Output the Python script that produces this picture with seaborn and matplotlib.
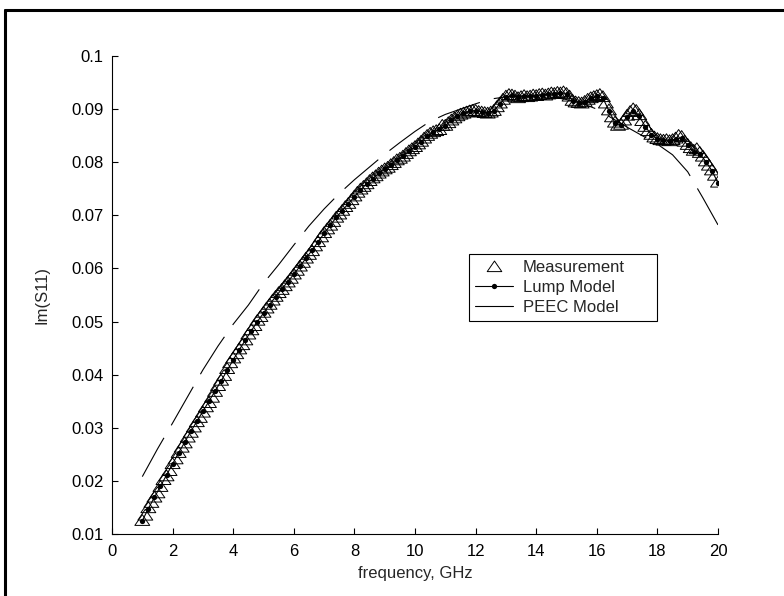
import numpy as np
import pandas as pd
import matplotlib
matplotlib.use("Agg")
import matplotlib.pyplot as plt
import seaborn as sns
from matplotlib.lines import Line2D
from matplotlib.path import Path

# Measurement, 1 - 20 GHz step 0.1
meas_freq = [round(1.0 + 0.1 * i, 1) for i in range(191)]
meas_im = [
    0.0126, 0.0136, 0.0150, 0.0160, 0.0170, 0.0178, 0.0190, 0.0203, 0.0210, 0.0220,
    0.0233, 0.0242, 0.0254, 0.0264, 0.0272, 0.0283, 0.0292, 0.0302, 0.0312, 0.0320,
    0.0330, 0.0340, 0.0348, 0.0358, 0.0369, 0.0380, 0.0390, 0.0399, 0.0412, 0.0423,
    0.0432, 0.0440, 0.0449, 0.0457, 0.0466, 0.0477, 0.0485, 0.0493, 0.0503, 0.0510,
    0.0518, 0.0526, 0.0533, 0.0541, 0.0548, 0.0555, 0.0561, 0.0568, 0.0575, 0.0582,
    0.0590, 0.0597, 0.0605, 0.0612, 0.0620, 0.0627, 0.0634, 0.0643, 0.0651, 0.0660,
    0.0668, 0.0675, 0.0682, 0.0689, 0.0697, 0.0703, 0.0710, 0.0717, 0.0723, 0.0730,
    0.0737, 0.0744, 0.0750, 0.0755, 0.0760, 0.0766, 0.0771, 0.0775, 0.0780, 0.0784,
    0.0788, 0.0791, 0.0796, 0.0800, 0.0805, 0.0808, 0.0812, 0.0817, 0.0822, 0.0826,
    0.0830, 0.0835, 0.0840, 0.0846, 0.0851, 0.0855, 0.0858, 0.0860, 0.0862, 0.0870,
    0.0870, 0.0875, 0.0880, 0.0884, 0.0888, 0.0891, 0.0893, 0.0895, 0.0897, 0.0898,
    0.0898, 0.0896, 0.0895, 0.0894, 0.0893, 0.0895, 0.0898, 0.0905, 0.0912, 0.0919,
    0.0925, 0.0928, 0.0927, 0.0925, 0.0922, 0.0924, 0.0926, 0.0924, 0.0925, 0.0927,
    0.0926, 0.0928, 0.0929, 0.0927, 0.0929, 0.0931, 0.0930, 0.0932, 0.0931, 0.0933,
    0.0930, 0.0925, 0.0917, 0.0914, 0.0913, 0.0912, 0.0915, 0.0919, 0.0922, 0.0924,
    0.0926, 0.0928, 0.0924, 0.0912, 0.0899, 0.0886, 0.0876, 0.0870, 0.0872, 0.0880,
    0.0889, 0.0896, 0.0901, 0.0898, 0.0890, 0.0879, 0.0868, 0.0860, 0.0853, 0.0848,
    0.0845, 0.0843, 0.0842, 0.0843, 0.0841, 0.0843, 0.0846, 0.0851, 0.0849, 0.0840,
    0.0834, 0.0828, 0.0823, 0.0826, 0.0819, 0.0812, 0.0803, 0.0795, 0.0786, 0.0776,
    0.0763,
]

# Lump model, 1 - 20 GHz step 0.2
lump_freq = [round(1.0 + 0.2 * i, 1) for i in range(96)]
lump_im = [
    0.0125, 0.0148, 0.0169, 0.0190, 0.0211, 0.0232, 0.0253, 0.0273, 0.0293, 0.0312,
    0.0331, 0.0350, 0.0369, 0.0388, 0.0408, 0.0428, 0.0447, 0.0465, 0.0483, 0.0500,
    0.0516, 0.0532, 0.0547, 0.0561, 0.0575, 0.0589, 0.0604, 0.0619, 0.0634, 0.0650,
    0.0666, 0.0681, 0.0696, 0.0709, 0.0722, 0.0735, 0.0748, 0.0759, 0.0769, 0.0779,
    0.0787, 0.0795, 0.0804, 0.0812, 0.0821, 0.0829, 0.0839, 0.0849, 0.0856, 0.0862,
    0.0869, 0.0879, 0.0887, 0.0892, 0.0896, 0.0897, 0.0895, 0.0893, 0.0897, 0.0910,
    0.0922, 0.0926, 0.0922, 0.0924, 0.0924, 0.0925, 0.0927, 0.0928, 0.0929, 0.0930,
    0.0928, 0.0916, 0.0912, 0.0914, 0.0920, 0.0924, 0.0921, 0.0897, 0.0874, 0.0870,
    0.0886, 0.0897, 0.0887, 0.0867, 0.0852, 0.0844, 0.0841, 0.0840, 0.0844, 0.0846,
    0.0832, 0.0820, 0.0816, 0.0801, 0.0784, 0.0761,
]

# PEEC model, 1 - 20 GHz step 0.5
peec_freq = [1.0 + 0.5 * i for i in range(39)]
peec_im = [
    0.0208, 0.0260, 0.0309, 0.0359, 0.0409, 0.0454, 0.0495, 0.0531, 0.0572, 0.0607,
    0.0644, 0.0680, 0.0712, 0.0741, 0.0767, 0.0791, 0.0815, 0.0837, 0.0858, 0.0877,
    0.0890, 0.0900, 0.0910, 0.0919, 0.0923, 0.0925, 0.0925, 0.0923, 0.0918, 0.0911,
    0.0900, 0.0883, 0.0866, 0.0850, 0.0834, 0.0814, 0.0782, 0.0733, 0.0682,
]

x_ticks = list(range(0, 21, 2))
y_ticks = [0.01, 0.02, 0.03, 0.04, 0.05, 0.06, 0.07, 0.08, 0.09, 0.1]
y_tick_labels = ["0.01", "0.02", "0.03", "0.04", "0.05", "0.06", "0.07", "0.08", "0.09", "0.1"]
legend_labels = ["Measurement", "Lump Model", "PEEC Model"]

sns.set_style("ticks")
plt.rcParams['font.family'] = ['Liberation Sans', 'DejaVu Sans']
plt.rcParams['font.size'] = 12

fig = plt.figure(figsize=(7.84, 5.96), dpi=100)
ax = fig.add_axes([112 / 784, 62 / 596, 606 / 784, 478 / 596])

# closed, slightly flattened triangle
tri = Path([(-1, -0.7), (1, -0.7), (0, 0.75), (-1, -0.7)],
           [Path.MOVETO, Path.LINETO, Path.LINETO, Path.CLOSEPOLY])

sns.scatterplot(x=meas_freq, y=meas_im, ax=ax, marker=tri, s=115,
                facecolor="none", edgecolor="black", linewidth=0.7, zorder=2)
sns.lineplot(x=lump_freq, y=lump_im, ax=ax, color="black", lw=0.8,
             marker="o", markersize=3.8, markeredgewidth=0, zorder=3)
sns.lineplot(x=peec_freq, y=peec_im, ax=ax, color="black", lw=0.8,
             linestyle=(0, (40, 13)), zorder=4)

ax.set_xlim(0, 20)
ax.set_ylim(0.01, 0.1)
ax.set_xticks(x_ticks)
ax.set_xticklabels([str(t) for t in x_ticks])
ax.set_yticks(y_ticks)
ax.set_yticklabels(y_tick_labels)
ax.tick_params(direction="in", length=4, width=0.8, labelsize=12, colors="black")
ax.tick_params(axis="x", pad=7)
ax.tick_params(axis="y", pad=6)
for s in ["top", "right"]:
    ax.spines[s].set_visible(False)
for s in ["left", "bottom"]:
    ax.spines[s].set_color("black")
    ax.spines[s].set_linewidth(0.8)

ax.set_xlabel("frequency, GHz", fontsize=12, labelpad=5)
ax.set_ylabel("Im(S11)", fontsize=12, labelpad=16)

handles = [
    Line2D([], [], marker=tri, ls="none", mfc="none", mec="black", mew=0.7, ms=10.5),
    Line2D([], [], marker="o", color="black", lw=0.8, ms=3.8, mew=0),
    Line2D([], [], color="black", lw=0.8),
]
leg = ax.legend(handles, legend_labels, loc="upper left",
                bbox_to_anchor=(0.589, 0.433, 0.31, 0.153), mode="expand",
                borderaxespad=0, fancybox=False, framealpha=1, fontsize=12,
                handlelength=2.3, handletextpad=0.6, labelspacing=0.3,
                borderpad=0.35)
leg.get_frame().set_edgecolor("black")
leg.get_frame().set_linewidth(0.8)

# outer frame (left and top edges)
fig.add_artist(Line2D([5 / 784, 5 / 784], [0, 1 - 10 / 596], color="black", lw=2.2))
fig.add_artist(Line2D([5 / 784, 1], [1 - 10 / 596, 1 - 10 / 596], color="black", lw=2.2))

fig.savefig("out.png", dpi=100)
